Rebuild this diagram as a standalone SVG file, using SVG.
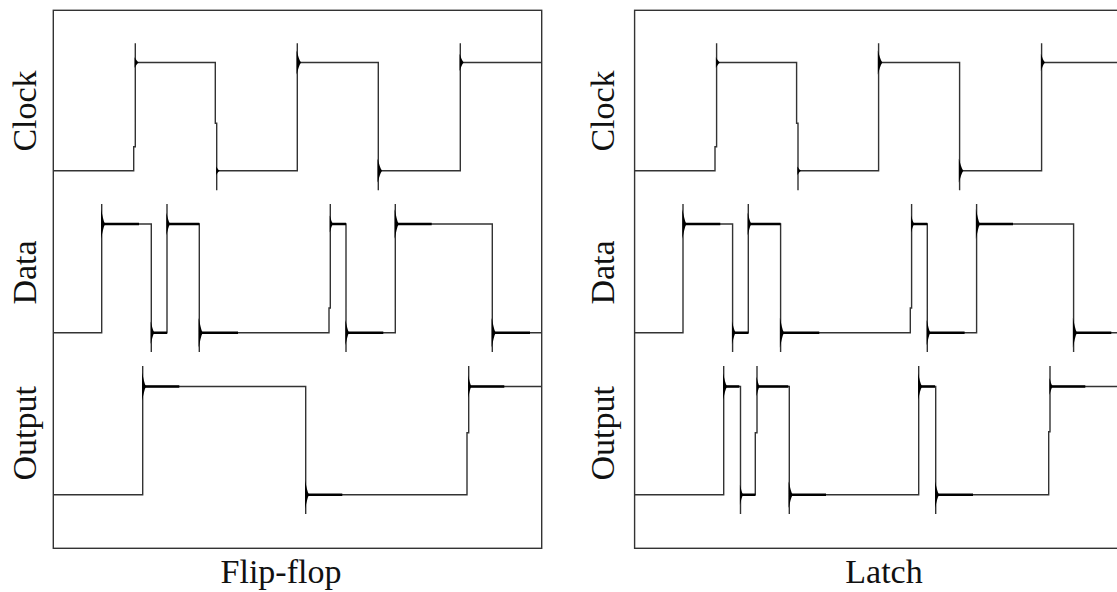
<svg xmlns="http://www.w3.org/2000/svg" xmlns:xlink="http://www.w3.org/1999/xlink" width="1117" height="592" viewBox="0 0 1117 592">
  <style>
    .frame { fill: none; stroke: #333; stroke-width: 1.4; }
    .wave { fill: none; stroke: #333; stroke-width: 1.4; }
    .hold { fill: none; stroke: #000; stroke-width: 2.6; }
    .spk { fill: #000; }
    .lbl { font-family: "Liberation Serif", "Times New Roman", serif; font-size: 34px; fill: #111; text-anchor: middle; }
  </style>
  <defs>
    <!-- overshoot spindle drawn on the right of an edge, centred on the settled level -->
    <path id="spk" class="spk" d="M-0.7,-14 C0.9,-8 1.6,-3 3.4,0 C1.6,3 0.9,8 -0.7,14 Z"/>

    <!-- clock trace shared by both panels -->
    <g id="clock">
      <path class="wave" d="M53.3,170.7 H133.7 V146.7 H135.3 V43.3 M135.3,62.5 H215.3 V123.3 H216.7 V190.3 M216.7,170.7 H297.3 V43.3 M297.3,62.5 H378.3 V190.3 M378.3,170.7 H460.3 V43.3 M460.3,62.5 H541.7"/>
      <use href="#spk" transform="translate(135.3,62.5) scale(1,0.38)"/>
      <use href="#spk" transform="translate(216.7,170.7) scale(0.9,0.3)"/>
      <use href="#spk" transform="translate(297.3,62.5) scale(1.1,0.85)"/>
      <use href="#spk" transform="translate(378.3,170.7) scale(1.1,0.85)"/>
      <use href="#spk" transform="translate(460.3,62.5) scale(1,0.6)"/>
    </g>

    <!-- data trace shared by both panels -->
    <g id="data">
      <path class="wave" d="M53.3,332.7 H101.7 V204 M101.7,224 H151.3 V352 M151.3,332.7 H167 V204 M167,224 H199.3 V352 M199.3,332.7 H329 V308 H330.3 V204 M330.3,224 H346 V352 M346,332.7 H395.3 V204 M395.3,224 H492.3 V352 M492.3,332.7 H541.7"/>
      <path class="hold" d="M101.7,224 H139 M151.3,332.7 H167 M167,224 H199.3 M199.3,332.7 H238 M330.3,224 H346 M346,332.7 H383.3 M395.3,224 H431.7 M492.3,332.7 H530"/>
      <use href="#spk" transform="translate(101.7,224) scale(1,1.05)"/>
      <use href="#spk" transform="translate(151.3,332.7) scale(0.9,0.8)"/>
      <use href="#spk" transform="translate(167,224) scale(0.9,0.8)"/>
      <use href="#spk" transform="translate(199.3,332.7) scale(1,1.05)"/>
      <use href="#spk" transform="translate(330.3,224) scale(0.8,0.6)"/>
      <use href="#spk" transform="translate(346,332.7) scale(0.9,0.9)"/>
      <use href="#spk" transform="translate(395.3,224) scale(1,1.05)"/>
      <use href="#spk" transform="translate(492.3,332.7) scale(1,1.05)"/>
    </g>
  </defs>

  <rect width="1117" height="592" fill="#fff"/>

  <!-- Flip-flop panel -->
  <g id="flipflop">
    <rect class="frame" x="53.3" y="10.3" width="488.4" height="538"/>
    <use href="#clock"/>
    <use href="#data"/>
    <g id="ff-output">
      <path class="wave" d="M53.3,494.7 H142.7 V366 M142.7,386.5 H305.7 V514 M305.7,494.7 H467 V432.7 H468.7 V366 M468.7,386.5 H541.7"/>
      <path class="hold" d="M142.7,386.5 H179.3 M305.7,494.7 H342.3 M468.7,386.5 H504.3"/>
      <use href="#spk" transform="translate(142.7,386.5)"/>
      <use href="#spk" transform="translate(305.7,494.7)"/>
      <use href="#spk" transform="translate(468.7,386.5) scale(0.8,0.8)"/>
    </g>
    <text class="lbl" transform="translate(35.5,111) rotate(-90)">Clock</text>
    <text class="lbl" transform="translate(35.5,272.5) rotate(-90)">Data</text>
    <text class="lbl" transform="translate(35.5,433.3) rotate(-90)">Output</text>
    <text class="lbl" x="281" y="583">Flip-flop</text>
  </g>

  <!-- Latch panel -->
  <g id="latch">
    <rect class="frame" x="634.6" y="10.3" width="488.4" height="538"/>
    <use href="#clock" transform="translate(581.3,0)"/>
    <use href="#data" transform="translate(581.3,0)"/>
    <g id="latch-output">
      <path class="wave" d="M634.6,494.7 H723.7 V366 M723.7,386.5 H740.5 V514 M740.5,494.7 H755.3 V432.7 H757 V366 M757,386.5 H789.3 V514 M789.3,494.7 H918.7 V366 M918.7,386.5 H935.7 V514 M935.7,494.7 H1048.7 V431.7 H1050 V366 M1050,386.5 H1123"/>
      <path class="hold" d="M723.7,386.5 H739.3 M740.5,494.7 H755.3 M757,386.5 H788.3 M789.3,494.7 H826 M918.7,386.5 H935 M935.7,494.7 H973 M1050,386.5 H1085.3"/>
      <use href="#spk" transform="translate(723.7,386.5) scale(1,0.95)"/>
      <use href="#spk" transform="translate(740.5,494.7) scale(0.8,0.7)"/>
      <use href="#spk" transform="translate(757,386.5) scale(0.8,0.7)"/>
      <use href="#spk" transform="translate(789.3,494.7) scale(1,0.95)"/>
      <use href="#spk" transform="translate(918.7,386.5) scale(1,0.95)"/>
      <use href="#spk" transform="translate(935.7,494.7) scale(1,0.95)"/>
      <use href="#spk" transform="translate(1050,386.5) scale(0.8,0.6)"/>
    </g>
    <text class="lbl" transform="translate(614,111) rotate(-90)">Clock</text>
    <text class="lbl" transform="translate(614,272.5) rotate(-90)">Data</text>
    <text class="lbl" transform="translate(614,433.3) rotate(-90)">Output</text>
    <text class="lbl" x="884" y="583">Latch</text>
  </g>
</svg>
